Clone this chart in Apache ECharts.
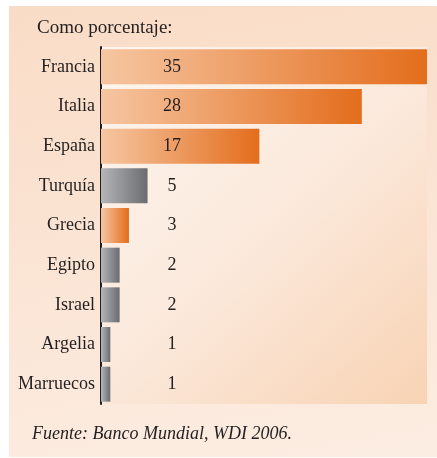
<!DOCTYPE html>
<html>
<head>
<meta charset="utf-8">
<script src="https://cdn.jsdelivr.net/npm/echarts@6/dist/echarts.min.js"></script>
<style>
  html, body { margin: 0; padding: 0; background: #fff; }
  #wrap { position: relative; width: 437px; height: 458px; overflow: hidden; }
  #panel { position: absolute; left: 9px; top: 6px; right: 0; bottom: 1px;
           background: linear-gradient(170deg, #f9dcc6 0%, #fbe6d7 60%, #fcede2 100%); }
  #main { position: absolute; left: 0; top: 0; width: 437px; height: 458px; }
</style>
</head>
<body>
<div id="wrap">
  <div id="panel"></div>
  <div id="main"></div>
</div>
<script>
var paises = ['Francia', 'Italia', 'España', 'Turquía', 'Grecia', 'Egipto', 'Israel', 'Argelia', 'Marruecos'];
var valores = [35, 28, 17, 5, 3, 2, 2, 1, 1];
// naranja = UE, gris = resto
var grupo = ['ue', 'ue', 'ue', 'otro', 'ue', 'otro', 'otro', 'otro', 'otro'];

var serif = '"Liberation Serif", "DejaVu Serif", serif';

function degradado(a, b) {
    return new echarts.graphic.LinearGradient(0, 0, 1, 0, [
        { offset: 0, color: a },
        { offset: 1, color: b }
    ]);
}

var myChart = echarts.init(document.getElementById('main'));

var datos = valores.map(function (v, i) {
    return {
        value: v,
        itemStyle: {
            color: grupo[i] === 'ue' ? degradado('#f6c6a2', '#e36d1c') : degradado('#b4b5b9', '#6b6c70')
        }
    };
});

var option = {
    backgroundColor: 'transparent',
    animation: false,
    title: {
        text: 'Como porcentaje:',
        left: 32,
        top: 14,
        textStyle: { fontFamily: serif, fontSize: 19, fontWeight: 'normal', color: '#231f20' }
    },
    graphic: [{
        type: 'text',
        left: 32,
        top: 425,
        style: {
            text: 'Fuente: Banco Mundial, WDI 2006.',
            font: 'italic 18px ' + serif,
            fill: '#231f20'
        }
    }],
    grid: {
        left: 101,
        right: 10,
        top: 47,
        bottom: 54,
        show: true,
        borderWidth: 0,
        backgroundColor: new echarts.graphic.LinearGradient(0, 0, 1, 1, [
            { offset: 0, color: '#fdf5ee' },
            { offset: 0.5, color: '#fbe9dc' },
            { offset: 1, color: '#f8d3b4' }
        ])
    },
    xAxis: {
        type: 'value',
        min: 0,
        max: 35,
        show: false
    },
    yAxis: {
        type: 'category',
        inverse: true,
        data: paises,
        axisLine: { show: true, lineStyle: { color: '#231f20', width: 2 } },
        axisTick: { show: false },
        axisLabel: { margin: 6, fontFamily: serif, fontSize: 18, color: '#231f20' }
    },
    series: [{
        type: 'bar',
        barWidth: 35,
        data: datos,
        label: {
            show: true,
            position: [71, '50%'],
            align: 'center',
            verticalAlign: 'middle',
            fontFamily: serif,
            fontSize: 18,
            color: '#231f20'
        }
    }]
};

myChart.setOption(option);
</script>
</body>
</html>
